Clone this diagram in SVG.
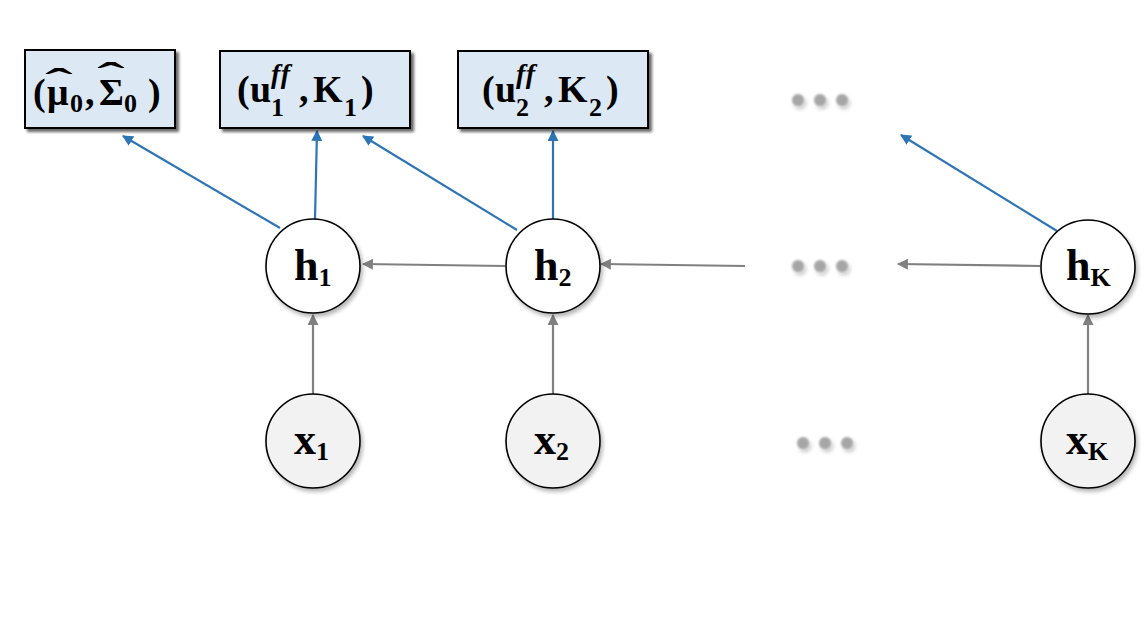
<svg xmlns="http://www.w3.org/2000/svg" width="1148" height="620" viewBox="0 0 1148 620">
<style>
.box{fill:#dce9f5;stroke:#000;stroke-width:2;}
.hn{fill:#fff;stroke:#000;stroke-width:1.6;}
.xn{fill:#f2f2f2;stroke:#000;stroke-width:1.6;}
.t{font-family:"Liberation Serif",serif;font-weight:bold;fill:#000;font-variant-ligatures:none;font-feature-settings:"liga" 0;}
.main{font-size:44px;}
.sub{font-size:26px;}
.bt{font-size:38px;}
.bsub{font-size:26px;}
.sup{font-size:28px;font-style:italic;letter-spacing:1px;}
.hat{font-size:38px;}
.blue{stroke:#2e75b6;stroke-width:2.2;fill:none;marker-end:url(#ab);}
.gray{stroke:#808080;stroke-width:2.2;fill:none;marker-end:url(#ag);}
.dot{fill:#a6a6a6;}
</style>
<defs>
<marker id="ab" viewBox="0 0 10 10" refX="9" refY="5" markerWidth="5" markerHeight="5" orient="auto" markerUnits="strokeWidth">
<path d="M0,0 L10,5 L0,10 z" fill="#2e75b6"/>
</marker>
<marker id="ag" viewBox="0 0 10 10" refX="9" refY="5" markerWidth="5" markerHeight="5" orient="auto" markerUnits="strokeWidth">
<path d="M0,0 L10,5 L0,10 z" fill="#808080"/>
</marker>
<filter id="bshadow" x="-10%" y="-10%" width="130%" height="140%">
<feGaussianBlur in="SourceAlpha" stdDeviation="1.5"/>
<feOffset dx="3" dy="3" result="o"/>
<feComponentTransfer><feFuncA type="linear" slope="0.6"/></feComponentTransfer>
<feMerge><feMergeNode/><feMergeNode in="SourceGraphic"/></feMerge>
</filter>
<filter id="cshadow" x="-20%" y="-20%" width="150%" height="150%">
<feGaussianBlur in="SourceAlpha" stdDeviation="2"/>
<feOffset dx="2" dy="3" result="o"/>
<feComponentTransfer><feFuncA type="linear" slope="0.3"/></feComponentTransfer>
<feMerge><feMergeNode/><feMergeNode in="SourceGraphic"/></feMerge>
</filter>
<filter id="dshadow" x="-50%" y="-50%" width="250%" height="250%">
<feGaussianBlur in="SourceGraphic" stdDeviation="0.8" result="s"/>
<feGaussianBlur in="SourceAlpha" stdDeviation="2"/>
<feOffset dx="2" dy="3"/>
<feComponentTransfer><feFuncA type="linear" slope="0.25"/></feComponentTransfer>
<feMerge><feMergeNode/><feMergeNode in="s"/></feMerge>
</filter>
</defs>

<g id="connectors">
<line class="blue" x1="280" y1="228" x2="123" y2="136"/>
<line class="blue" x1="315" y1="219" x2="317" y2="131"/>
<line class="blue" x1="517" y1="230" x2="363" y2="136"/>
<line class="blue" x1="553" y1="219" x2="553" y2="131"/>
<line class="blue" x1="1057" y1="231" x2="901" y2="135"/>
<line class="gray" x1="505" y1="266" x2="363" y2="264"/>
<line class="gray" x1="745" y1="266" x2="601" y2="264"/>
<line class="gray" x1="1040" y1="266" x2="898" y2="264"/>
<line class="gray" x1="313" y1="394" x2="313" y2="315"/>
<line class="gray" x1="553" y1="394" x2="553" y2="315"/>
<line class="gray" x1="1088" y1="394" x2="1088" y2="315"/>
</g>

<g id="box0">
<rect class="box" x="25" y="50" width="150" height="78" filter="url(#bshadow)"/>
<text class="t bt" y="105"><tspan x="33">(</tspan><tspan x="47">μ</tspan><tspan class="bsub" x="70" y="112">0</tspan><tspan x="85" y="105">,</tspan><tspan x="99">Σ</tspan><tspan class="bsub" x="124" y="112">0</tspan><tspan x="148" y="105">)</tspan></text>
<text class="t hat" text-anchor="middle" transform="translate(59,95) scale(2.2,1)">ˆ</text>
<text class="t hat" text-anchor="middle" transform="translate(111,89) scale(2.2,1)">ˆ</text>
</g>

<g id="box1">
<rect class="box" x="220" y="51" width="190" height="77" filter="url(#bshadow)"/>
<text class="t bt" y="102"><tspan x="237">(</tspan><tspan x="250">u</tspan><tspan class="sup" x="271" y="83">ff</tspan><tspan class="bsub" x="271" y="116">1</tspan><tspan x="299" y="102">,</tspan><tspan x="313">K</tspan><tspan class="bsub" x="344" y="116">1</tspan><tspan x="361" y="102">)</tspan></text>
</g>

<g id="box2">
<rect class="box" x="458" y="51" width="190" height="77" filter="url(#bshadow)"/>
<text class="t bt" y="102"><tspan x="482">(</tspan><tspan x="495">u</tspan><tspan class="sup" x="516" y="83">ff</tspan><tspan class="bsub" x="516" y="116">2</tspan><tspan x="544" y="102">,</tspan><tspan x="558">K</tspan><tspan class="bsub" x="589" y="116">2</tspan><tspan x="606" y="102">)</tspan></text>
</g>

<g id="h1">
<circle class="hn" cx="313" cy="266" r="47" filter="url(#cshadow)"/>
<text class="t main" x="294" y="280">h<tspan class="sub" dy="6">1</tspan></text>
</g>
<g id="h2">
<circle class="hn" cx="553" cy="266" r="47" filter="url(#cshadow)"/>
<text class="t main" x="534" y="280">h<tspan class="sub" dy="6">2</tspan></text>
</g>
<g id="hK">
<circle class="hn" cx="1088" cy="267" r="47" filter="url(#cshadow)"/>
<text class="t main" x="1066" y="280">h<tspan class="sub" dy="6">K</tspan></text>
</g>

<g id="x1">
<circle class="xn" cx="313" cy="441" r="47" filter="url(#cshadow)"/>
<text class="t main" x="294" y="454">x<tspan class="sub" dy="6">1</tspan></text>
</g>
<g id="x2">
<circle class="xn" cx="553" cy="441" r="47" filter="url(#cshadow)"/>
<text class="t main" x="534" y="454">x<tspan class="sub" dy="6">2</tspan></text>
</g>
<g id="xK">
<circle class="xn" cx="1088" cy="441" r="47" filter="url(#cshadow)"/>
<text class="t main" x="1066" y="454">x<tspan class="sub" dy="6">K</tspan></text>
</g>

<g id="dots" filter="url(#dshadow)">
<circle class="dot" cx="798" cy="100" r="6"/>
<circle class="dot" cx="820" cy="100" r="6"/>
<circle class="dot" cx="842" cy="100" r="6"/>
<circle class="dot" cx="798" cy="266" r="6"/>
<circle class="dot" cx="820" cy="266" r="6"/>
<circle class="dot" cx="842" cy="266" r="6"/>
<circle class="dot" cx="803" cy="443" r="6"/>
<circle class="dot" cx="825" cy="443" r="6"/>
<circle class="dot" cx="847" cy="443" r="6"/>
</g>
</svg>
